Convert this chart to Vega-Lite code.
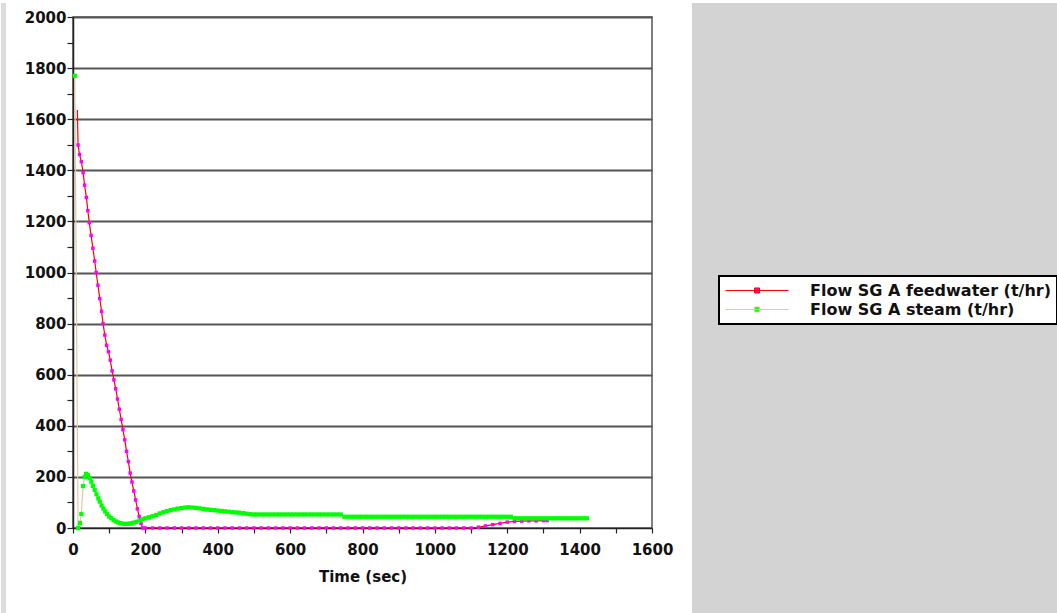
{
  "$schema": "https://vega.github.io/schema/vega-lite/v6.json",
  "padding": 0,
  "background": "white",
  "bounds": "full",
  "spacing": 18,
  "config": {"view": {"stroke": null}},
  "datasets": {
    "feed": [
      {"t":12,"v":1636},{"t":14,"v":1499},{"t":18,"v":1462},{"t":23,"v":1434},{"t":28,"v":1391},{"t":32,"v":1342},{"t":37,"v":1294},{"t":41,"v":1242},{"t":45,"v":1195},{"t":50,"v":1145},{"t":55,"v":1095},{"t":60,"v":1045},{"t":64,"v":1000},{"t":69,"v":950},{"t":74,"v":898},{"t":79,"v":848},{"t":83,"v":800},{"t":88,"v":755},{"t":93,"v":715},{"t":98,"v":690},{"t":103,"v":657},{"t":108,"v":615},{"t":113,"v":580},{"t":118,"v":545},{"t":123,"v":505},{"t":128,"v":465},{"t":133,"v":425},{"t":138,"v":385},{"t":143,"v":345},{"t":148,"v":300},{"t":153,"v":260},{"t":158,"v":215},{"t":163,"v":180},{"t":168,"v":145},{"t":173,"v":110},{"t":178,"v":75},{"t":183,"v":45},{"t":188,"v":18},{"t":193,"v":0},
      {"t":200,"v":0},{"t":220,"v":0},{"t":240,"v":0},{"t":260,"v":0},{"t":280,"v":0},{"t":300,"v":0},{"t":320,"v":0},{"t":340,"v":0},{"t":360,"v":0},{"t":380,"v":0},{"t":400,"v":0},{"t":420,"v":0},{"t":440,"v":0},{"t":460,"v":0},{"t":480,"v":0},{"t":500,"v":0},{"t":520,"v":0},{"t":540,"v":0},{"t":560,"v":0},{"t":580,"v":0},{"t":600,"v":0},{"t":620,"v":0},{"t":640,"v":0},{"t":660,"v":0},{"t":680,"v":0},{"t":700,"v":0},{"t":720,"v":0},{"t":740,"v":0},{"t":760,"v":0},{"t":780,"v":0},{"t":800,"v":0},{"t":820,"v":0},{"t":840,"v":0},{"t":860,"v":0},{"t":880,"v":0},{"t":900,"v":0},{"t":920,"v":0},{"t":940,"v":0},{"t":960,"v":0},{"t":980,"v":0},{"t":1000,"v":0},{"t":1020,"v":0},{"t":1040,"v":0},{"t":1060,"v":0},{"t":1080,"v":0},{"t":1100,"v":0},
      {"t":1120,"v":3},{"t":1140,"v":8},{"t":1160,"v":13},{"t":1180,"v":18},{"t":1200,"v":23},{"t":1220,"v":26},{"t":1240,"v":27},{"t":1260,"v":28},{"t":1280,"v":28},{"t":1300,"v":29},{"t":1310,"v":29}
    ],
    "steam": [
      {"t":5,"v":1770},{"t":14,"v":0},{"t":19,"v":20},{"t":23,"v":55},{"t":28,"v":164},{"t":32,"v":200},{"t":36,"v":212},{"t":41,"v":207},{"t":46,"v":195},{"t":51,"v":181},{"t":55,"v":165},{"t":60,"v":149},{"t":65,"v":132},{"t":70,"v":116},{"t":74,"v":103},{"t":79,"v":88},{"t":84,"v":76},{"t":89,"v":65},{"t":94,"v":55},{"t":100,"v":45},{"t":106,"v":38},{"t":112,"v":31},{"t":118,"v":26},{"t":124,"v":22},{"t":130,"v":19},{"t":137,"v":17},{"t":143,"v":16},{"t":150,"v":16},{"t":156,"v":17},{"t":161,"v":18},{"t":168,"v":21},{"t":175,"v":24},{"t":184,"v":29},{"t":192,"v":34},{"t":200,"v":38},
      {"t":210,"v":42},{"t":220,"v":46},{"t":230,"v":51},{"t":240,"v":57},{"t":250,"v":62},{"t":260,"v":66},{"t":270,"v":70},{"t":280,"v":73},{"t":290,"v":76},{"t":300,"v":78},{"t":310,"v":80},{"t":320,"v":81},{"t":330,"v":80},{"t":340,"v":79},{"t":350,"v":77},{"t":360,"v":75},{"t":370,"v":73},{"t":380,"v":71},{"t":390,"v":70},{"t":400,"v":68},{"t":410,"v":67},{"t":420,"v":65},{"t":430,"v":64},{"t":440,"v":62},{"t":450,"v":61},{"t":460,"v":60},{"t":470,"v":58},{"t":480,"v":56},{"t":490,"v":54},{"t":500,"v":53},
      {"t":510,"v":53},{"t":520,"v":53},{"t":530,"v":53},{"t":540,"v":53},{"t":550,"v":53},{"t":560,"v":53},{"t":570,"v":53},{"t":580,"v":53},{"t":590,"v":53},{"t":600,"v":53},{"t":610,"v":53},{"t":620,"v":53},{"t":630,"v":53},{"t":640,"v":53},{"t":650,"v":53},{"t":660,"v":53},{"t":670,"v":53},{"t":680,"v":53},{"t":690,"v":53},{"t":700,"v":53},{"t":710,"v":53},{"t":720,"v":53},{"t":730,"v":53},{"t":740,"v":53},
      {"t":750,"v":44},{"t":760,"v":44},{"t":770,"v":44},{"t":780,"v":44},{"t":790,"v":44},{"t":800,"v":44},{"t":810,"v":44},{"t":820,"v":44},{"t":830,"v":44},{"t":840,"v":44},{"t":850,"v":44},{"t":860,"v":44},{"t":870,"v":44},{"t":880,"v":44},{"t":890,"v":44},{"t":900,"v":44},{"t":910,"v":44},{"t":920,"v":44},{"t":930,"v":44},{"t":940,"v":44},{"t":950,"v":44},{"t":960,"v":44},{"t":970,"v":44},{"t":980,"v":44},{"t":990,"v":44},{"t":1000,"v":44},{"t":1010,"v":44},{"t":1020,"v":44},{"t":1030,"v":44},{"t":1040,"v":44},{"t":1050,"v":44},{"t":1060,"v":44},{"t":1070,"v":44},{"t":1080,"v":44},{"t":1090,"v":44},{"t":1100,"v":44},{"t":1110,"v":44},{"t":1120,"v":44},{"t":1130,"v":44},{"t":1140,"v":44},{"t":1150,"v":44},{"t":1160,"v":44},{"t":1170,"v":44},{"t":1180,"v":44},{"t":1190,"v":44},{"t":1200,"v":44},{"t":1210,"v":44},
      {"t":1220,"v":38},{"t":1230,"v":38},{"t":1240,"v":38},{"t":1250,"v":38},{"t":1260,"v":38},{"t":1270,"v":38},{"t":1280,"v":38},{"t":1290,"v":38},{"t":1300,"v":38},{"t":1310,"v":38},{"t":1320,"v":38},{"t":1330,"v":38},{"t":1340,"v":38},{"t":1350,"v":38},{"t":1360,"v":38},{"t":1370,"v":38},{"t":1380,"v":38},{"t":1390,"v":38},{"t":1400,"v":38},{"t":1410,"v":38},{"t":1420,"v":38}
    ]
  },
  "hconcat": [
    {
      "bounds": "flush",
      "spacing": 67,
      "hconcat": [
        {
          "width": 5,
          "height": 613,
          "data": {"values": [{}]},
          "mark": {"type": "point", "opacity": 0},
          "view": {"fill": "#dcdcdc", "stroke": null}
        },
        {
          "bounds": "flush",
          "spacing": 13,
          "vconcat": [
            {
              "width": 579,
              "height": 1,
              "data": {"values": [{}]},
              "mark": {"type": "point", "opacity": 0},
              "view": {"stroke": null}
            },
            {
              "width": 579,
              "height": 511,
              "view": {"stroke": "#555555", "strokeWidth": 1.5},
              "encoding": {
                "x": {
                  "field": "t", "type": "quantitative",
                  "scale": {"domain": [0, 1600], "nice": false},
                  "axis": {
                    "values": [0,100,200,300,400,500,600,700,800,900,1000,1100,1200,1300,1400,1500,1600],
                    "labelExpr": "datum.value % 200 === 0 ? datum.label : ''",
                    "format": "d",
                    "title": "Time (sec)",
                    "grid": false,
                    "labelFlush": false,
                    "labelOverlap": false,
                    "domainColor": "#222222", "domainWidth": 1.5,
                    "tickColor": "#222222", "tickSize": 5, "tickWidth": 1.2,
                    "labelFont": "DejaVu Sans", "labelFontWeight": "bold", "labelFontSize": 15, "labelColor": "#111111", "labelPadding": 9,
                    "titleFont": "DejaVu Sans", "titleFontWeight": "bold", "titleFontSize": 15, "titleColor": "#111111", "titlePadding": 12
                  }
                },
                "y": {
                  "field": "v", "type": "quantitative",
                  "scale": {"domain": [0, 2000], "nice": false},
                  "axis": {
                    "values": [0,100,200,300,400,500,600,700,800,900,1000,1100,1200,1300,1400,1500,1600,1700,1800,1900,2000],
                    "labelExpr": "datum.value % 200 === 0 ? datum.label : ''",
                    "format": "d",
                    "title": null,
                    "grid": true,
                    "gridColor": "#555555",
                    "gridWidth": 2,
                    "gridOpacity": {"condition": {"test": "datum.value % 200 === 0 && datum.value > 0", "value": 1}, "value": 0},
                    "labelOverlap": false,
                    "domainColor": "#222222", "domainWidth": 1.5,
                    "tickColor": "#222222", "tickSize": 6, "tickWidth": 1.2,
                    "labelFont": "DejaVu Sans", "labelFontWeight": "bold", "labelFontSize": 15, "labelColor": "#111111", "labelPadding": 1
                  }
                }
              },
              "layer": [
                {
                  "data": {"name": "steam"},
                  "mark": {"type": "line", "strokeWidth": 1.2},
                  "encoding": {
                    "color": {
                      "datum": "Flow SG A steam (t/hr)", "type": "nominal",
                      "scale": {"domain": ["Flow SG A feedwater (t/hr)", "Flow SG A steam (t/hr)"], "range": ["#ff0000", "#e3c8a5"]},
                      "legend": {
                        "orient": "none", "legendX": 718, "legendY": 273,
                        "title": null,
                        "fillColor": "white", "strokeColor": "#000000",
                        "padding": 6,
                        "symbolType": "M-1,0H1M-0.08,-0.08H0.08V0.08H-0.08Z",
                        "symbolSize": 3969,
                        "symbolStrokeWidth": 1,
                        "clipHeight": 17,
                        "rowPadding": 2,
                        "labelOffset": 21,
                        "labelFont": "DejaVu Sans", "labelFontWeight": "bold", "labelFontSize": 16, "labelColor": "#111111",
                        "labelLimit": 400,
                        "encode": {
                          "legend": {"update": {"strokeWidth": {"value": 2}}},
                          "symbols": {
                            "update": {
                              "fill": {"signal": "datum.value === 'Flow SG A feedwater (t/hr)' ? '#ff00ff' : '#00ff00'"},
                              "stroke": {"signal": "datum.value === 'Flow SG A feedwater (t/hr)' ? '#ff0000' : '#e3c8a5'"},
                              "opacity": {"value": 1},
                              "fillOpacity": {"value": 1}
                            }
                          }
                        }
                      }
                    }
                  }
                },
                {
                  "data": {"name": "feed"},
                  "mark": {"type": "line", "strokeWidth": 1.2},
                  "encoding": {
                    "color": {"datum": "Flow SG A feedwater (t/hr)", "type": "nominal"}
                  }
                },
                {
                  "data": {"name": "feed"},
                  "transform": [{"filter": "datum.t >= 13"}],
                  "mark": {"type": "square", "size": 12, "color": "#ff00ff", "filled": true, "opacity": 1}
                },
                {
                  "data": {"name": "steam"},
                  "mark": {"type": "square", "size": 18, "color": "#00ff00", "filled": true, "opacity": 1}
                }
              ]
            }
          ]
        }
      ]
    },
    {
      "width": 366,
      "height": 613,
      "data": {"values": [{}]},
      "mark": {"type": "point", "opacity": 0},
      "view": {"fill": "#d3d3d3", "stroke": null}
    }
  ]
}
